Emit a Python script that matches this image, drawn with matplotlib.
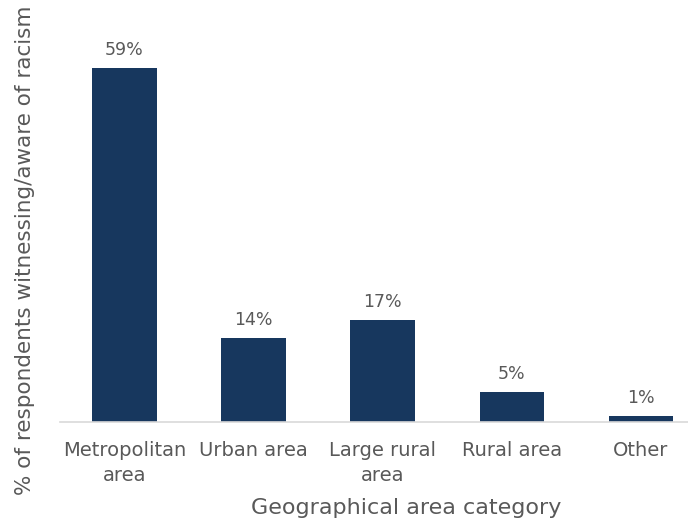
import matplotlib.pyplot as plt

categories = ['Metropolitan\narea', 'Urban area', 'Large rural\narea', 'Rural area', 'Other']
values = [59, 14, 17, 5, 1]

bar_color = '#17375E'
text_color = '#595959'

plt.rcParams['font.family'] = ['DejaVu Sans']

fig = plt.figure(figsize=(6.88, 5.23), dpi=100)
ax = fig.add_axes([60 / 688, 101 / 523, 628 / 688, 360 / 523])

x = range(len(categories))
bars = ax.bar(x, values, width=0.5, color=bar_color)

for xi, v in zip(x, values):
    ax.text(xi, v + 1.5, f'{v}%', ha='center', va='bottom', fontsize=12.5, color=text_color)

ax.set_xlim(-0.5, 4.365)
ax.set_ylim(0, 60)
ax.set_xticks(list(x))
ax.set_xticklabels(categories, fontsize=14, color=text_color, linespacing=1.35)
ax.tick_params(axis='x', length=0, pad=14)
ax.set_yticks([])

for s in ['top', 'right', 'left']:
    ax.spines[s].set_visible(False)
ax.spines['bottom'].set_color('#D9D9D9')
ax.spines['bottom'].set_linewidth(1.2)

# axis titles placed in figure pixels
fig.text(406 / 688, 1 - 508 / 523, 'Geographical area category', ha='center', va='center',
         fontsize=16, color=text_color)
fig.text(25 / 688, 1 - 250 / 523, '% of respondents witnessing/aware of racism', ha='center',
         va='center', rotation=90, fontsize=15.5, color=text_color)

fig.savefig('out.png', dpi=100)
